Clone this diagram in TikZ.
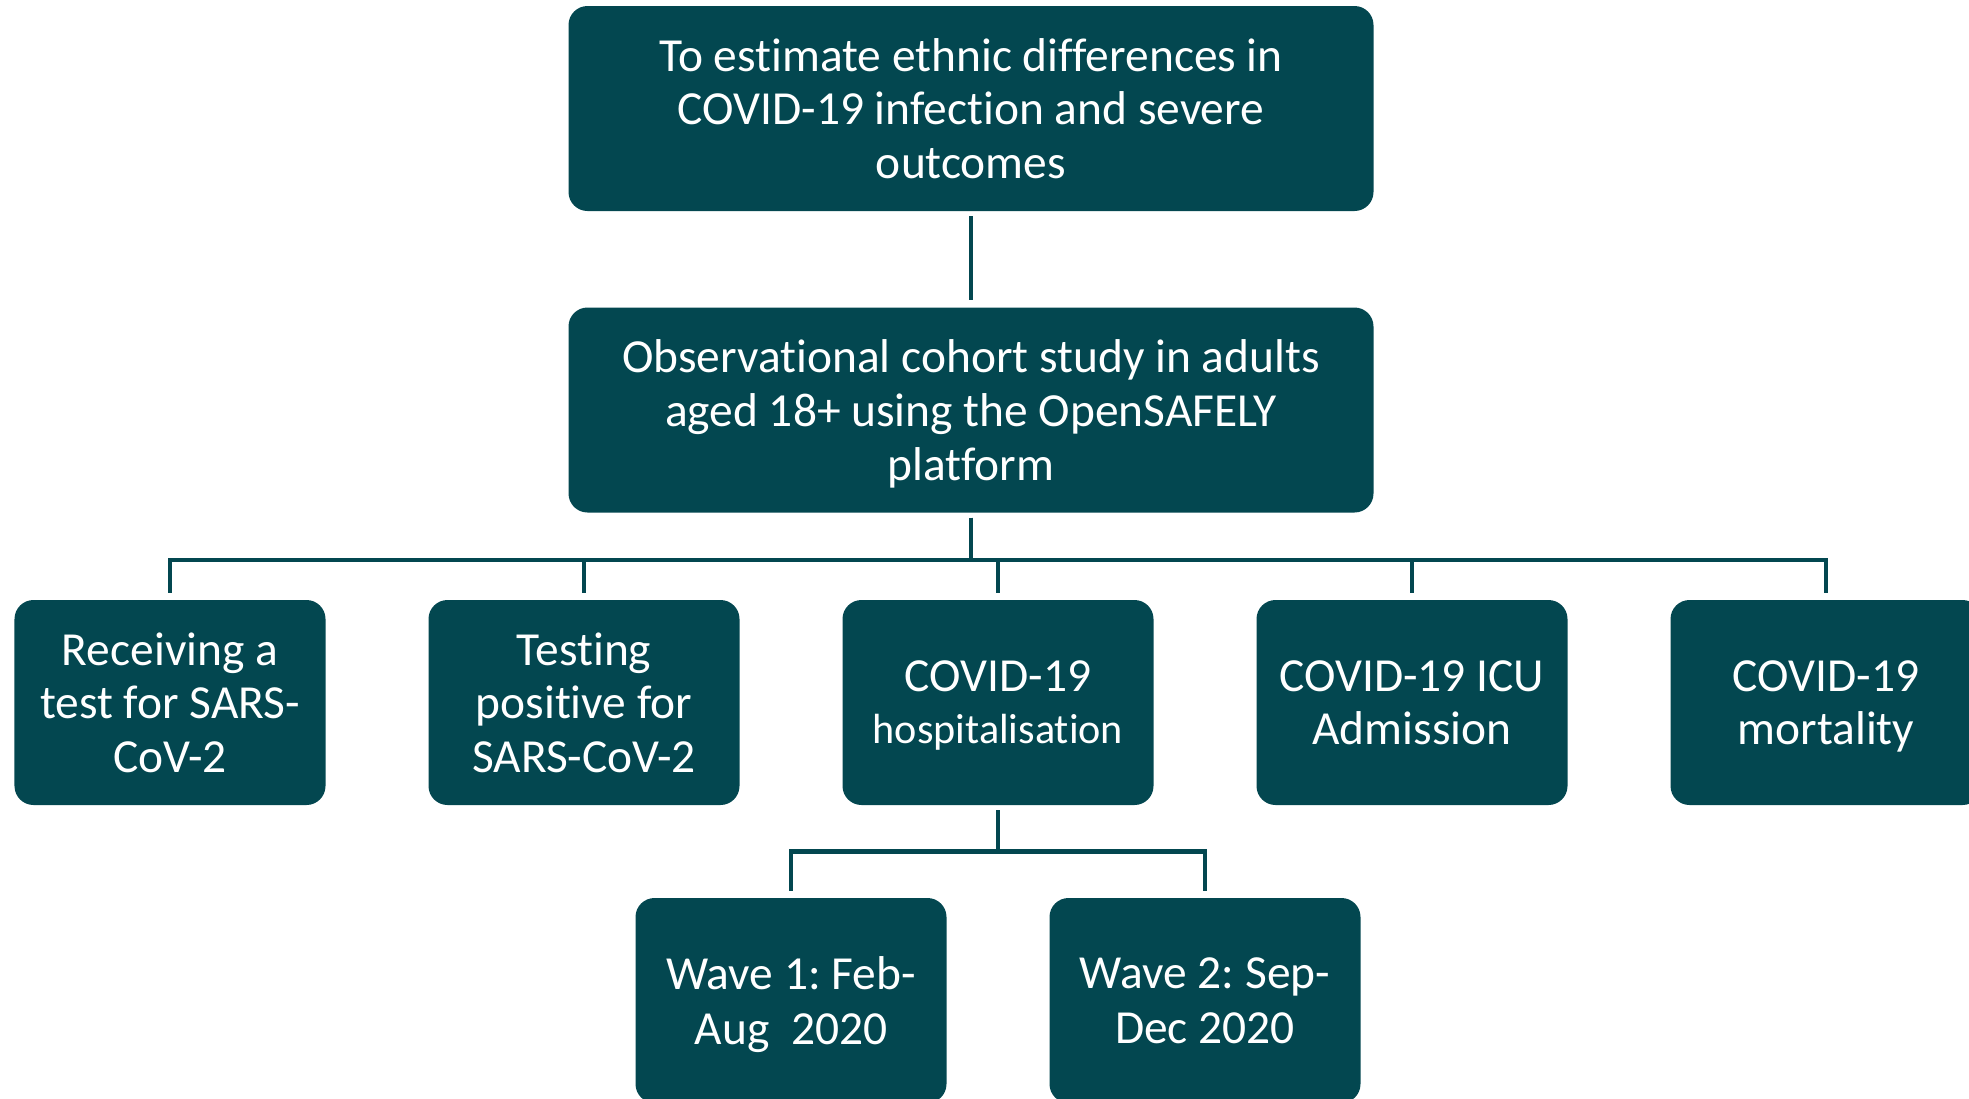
\documentclass[tikz,border=0pt]{standalone}
\usepackage{fontspec}
\setmainfont{Carlito}[Ligatures=NoCommon]
\usepackage{xcolor}
\usepackage{tikz}
\usetikzlibrary{positioning}
\definecolor{osteal}{RGB}{3,71,80}
\tikzstyle{aimbox}=[rectangle, rounded corners=0.38cm, fill=osteal, text=white,
  minimum width=16.1cm, minimum height=4.1cm, align=center,
  font=\fontsize{27}{30.6}\selectfont\frenchspacing, text depth=0pt]
\tikzstyle{outcome}=[aimbox, minimum width=6.22cm]
\tikzstyle{link}=[draw=osteal, line width=2.6pt, shorten <=0.1cm, shorten >=0.14cm]

\begin{document}
\begin{tikzpicture}

    \useasboundingbox (0,0) rectangle (39.38,-21.96);

    % Row 1 and 2: aim and design
    \node[aimbox] (aim) at (19.42,-2.17) {To estimate ethnic differences in\\ COVID-19 infection and severe\\ outcomes};
    \node[aimbox] (study) at (19.42,-8.2) {Observational cohort study in adults\\ aged 18+ using the OpenSAFELY\\ platform};

    % Row 3: outcomes
    \node[outcome] (tested) at (3.4,-14.05) {Receiving a\\ test for SARS-\\ CoV-2};
    \node[outcome] (positive) at (11.68,-14.05) {Testing\\ positive for\\ SARS-CoV-2};
    \node[outcome] (hosp) at (19.96,-14.05) {COVID-19\\[-1pt] {\fontsize{24}{28}\selectfont hospitalisation}};
    \node[outcome] (icu) at (28.24,-14.05) {COVID-19 ICU\\ Admission};
    \node[outcome] (death) at (36.52,-14.05) {COVID-19\\ mortality};

    % Row 4: hospitalisation waves
    \node[outcome] (wave1) at (15.82,-20.01) {Wave 1: Feb-\\[1pt] Aug\ \ 2020};
    \node[outcome] (wave2) at (24.1,-20.01) {Wave 2: Sep-\\[1pt] Dec 2020};

    \draw[link] (aim) -- (study);
    \draw[link] (study.south) -- ++(0,-0.94) -| (tested.north);
    \draw[link] (study.south) -- ++(0,-0.94) -| (positive.north);
    \draw[link] (study.south) -- ++(0,-0.94) -| (hosp.north);
    \draw[link] (study.south) -- ++(0,-0.94) -| (icu.north);
    \draw[link] (study.south) -- ++(0,-0.94) -| (death.north);
    \draw[link] (hosp.south) -- ++(0,-0.92) -| (wave1.north);
    \draw[link] (hosp.south) -- ++(0,-0.92) -| (wave2.north);

  \end{tikzpicture}
\end{document}
